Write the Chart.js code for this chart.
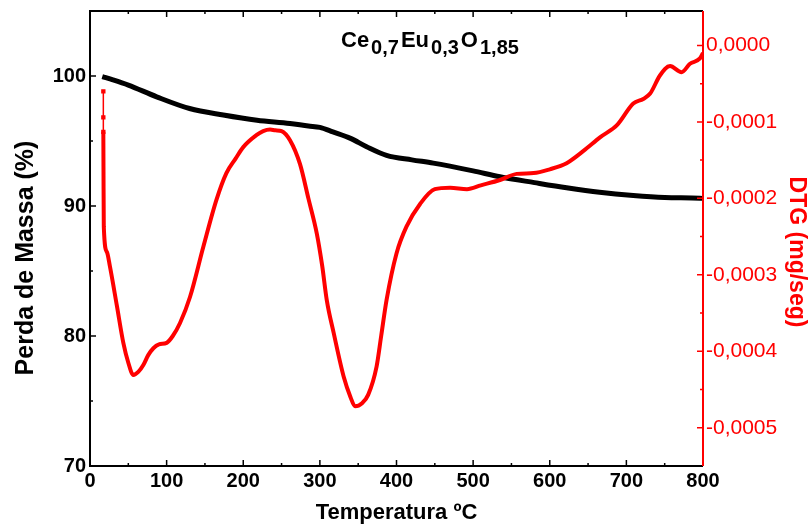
<!DOCTYPE html>
<html>
<head>
<meta charset="utf-8">
<script src="https://cdn.jsdelivr.net/npm/chart.js@4.4.1/dist/chart.umd.min.js"></script>
<style>
  html, body { margin: 0; padding: 0; background: #fff; }
  canvas { display: block; }
</style>
</head>
<body>
<canvas id="tgChart" width="808" height="526"></canvas>
<script>
// Curva TG (perda de massa, %)
const tempTG = [16, 30, 50, 87, 130, 174, 218, 261, 285, 300, 317, 340, 361, 387, 420, 448, 500, 535, 580, 622, 665, 709, 750, 796, 800];
const massaTG = [99.95, 99.7, 99.3, 98.4, 97.5, 97.0, 96.6, 96.35, 96.15, 96.05, 95.7, 95.2, 94.56, 93.9, 93.55, 93.3, 92.7, 92.25, 91.8, 91.4, 91.05, 90.8, 90.65, 90.6, 90.58];

// Curva DTG (mg/seg)
const tempDTG = [17.4, 17.6, 18, 22, 26, 35, 43.5, 50, 56.5, 63, 69.6, 76, 82.7, 90, 100, 108, 117.5, 130.5, 148, 165, 178, 190, 200, 217.6, 226, 235, 242, 250, 261, 274, 285, 296, 303, 309, 318, 331, 340, 346, 355, 363, 374, 380, 387, 400, 413, 431, 450, 470, 492, 510, 535, 557, 579, 600, 622, 644, 666, 688, 709, 722, 731, 744, 757, 772, 783, 796, 800];
const valorDTG = [-0.000113, -0.00016, -0.000237, -0.00027, -0.000289, -0.00034, -0.000389, -0.000415, -0.000431, -0.000427, -0.000418, -0.000405, -0.000396, -0.000391, -0.000389, -0.00038, -0.000363, -0.000329, -0.000263, -0.000202, -0.000167, -0.000148, -0.000133, -0.000117, -0.000112, -0.00011, -0.000111, -0.000112, -0.000124, -0.000155, -0.0002, -0.000246, -0.000288, -0.000333, -0.000376, -0.000433, -0.00046, -0.000472, -0.000468, -0.000457, -0.00042, -0.00038, -0.000333, -0.000272, -0.000237, -0.000207, -0.000188, -0.000186, -0.000188, -0.000183, -0.000176, -0.000168, -0.000167, -0.000162, -0.000154, -0.000138, -0.00012, -0.000104, -0.000076, -0.00007, -0.000063, -0.000039, -0.000027, -0.000035, -0.000024, -0.000017, -0.00001];

// primeiros pontos (traço fino com marcadores)
const tempInicio = [17.4, 17.4, 17.4];
const valorInicio = [-0.00006, -0.000094, -0.000113];

// ticks
const xTicks = [0, 100, 200, 300, 400, 500, 600, 700, 800];
const massaTicks = [70, 80, 90, 100];
const dtgTicks = [0, -0.0001, -0.0002, -0.0003, -0.0004, -0.0005];
const dtgTickLabels = ['0,0000', '-0,0001', '-0,0002', '-0,0003', '-0,0004', '-0,0005'];

const FONTE = "'Liberation Sans', Arial, sans-serif";
const VERMELHO = '#ff0000';

function pares(xs, ys) {
    return xs.map((x, i) => ({ x: x, y: ys[i] }));
}

// marcas dos eixos (para dentro), moldura, títulos e fórmula
const extras = {
    id: 'extras',
    afterDraw(chart) {
        const ctx = chart.ctx;
        const a = chart.chartArea;
        const sx = chart.scales.x, sy = chart.scales.y, sy2 = chart.scales.y2;
        ctx.save();

        ctx.lineWidth = 1.5;
        ctx.strokeStyle = '#000';
        ctx.beginPath();
        for (let t = 0; t <= 800; t += 50) {
            const px = sx.getPixelForValue(t);
            const len = t % 100 === 0 ? 6 : 3;
            ctx.moveTo(px, a.bottom); ctx.lineTo(px, a.bottom - len);
            ctx.moveTo(px, a.top); ctx.lineTo(px, a.top + len);
        }
        for (let m = 70; m <= 105; m += 5) {
            const py = sy.getPixelForValue(m);
            const len = m % 10 === 0 ? 6 : 3;
            ctx.moveTo(a.left, py); ctx.lineTo(a.left + len, py);
        }
        ctx.stroke();

        ctx.strokeStyle = VERMELHO;
        ctx.beginPath();
        for (let k = 0; k <= 11; k++) {
            const py = sy2.getPixelForValue(-k * 0.00005);
            const len = k % 2 === 0 ? 6 : 3;
            ctx.moveTo(a.right, py); ctx.lineTo(a.right - len, py);
        }
        ctx.stroke();

        // moldura
        ctx.lineWidth = 2;
        ctx.strokeStyle = '#000';
        ctx.beginPath();
        ctx.moveTo(a.right, a.top); ctx.lineTo(a.left, a.top);
        ctx.lineTo(a.left, a.bottom); ctx.lineTo(a.right, a.bottom);
        ctx.stroke();
        ctx.strokeStyle = VERMELHO;
        ctx.beginPath();
        ctx.moveTo(a.right, a.top); ctx.lineTo(a.right, a.bottom);
        ctx.stroke();

        // títulos dos eixos y
        ctx.textAlign = 'center';
        ctx.textBaseline = 'middle';
        ctx.fillStyle = '#000';
        ctx.font = 'bold 25px ' + FONTE;
        ctx.save();
        ctx.translate(26, 258);
        ctx.rotate(-Math.PI / 2);
        ctx.fillText('Perda de Massa (%)', 0, 0);
        ctx.restore();

        ctx.fillStyle = VERMELHO;
        ctx.font = 'bold 23px ' + FONTE;
        ctx.save();
        ctx.translate(796, 252);
        ctx.rotate(Math.PI / 2);
        ctx.fillText('DTG (mg/seg)', 0, 0);
        ctx.restore();

        // fórmula
        const partes = [['Ce', 0], ['0,7', 1], ['Eu', 0], ['0,3', 1], ['O', 0], ['1,85', 1]];
        ctx.fillStyle = '#000';
        ctx.textAlign = 'left';
        ctx.textBaseline = 'alphabetic';
        let x = 341;
        partes.forEach(([txt, sub]) => {
            ctx.font = sub ? 'bold 20px ' + FONTE : 'bold 22px ' + FONTE;
            ctx.fillText(txt, x, sub ? 54 : 47);
            x += ctx.measureText(txt).width + 2;
        });

        ctx.restore();
    }
};

const ctx = document.getElementById('tgChart').getContext('2d');
const graficoTG = new Chart(ctx, {
    type: 'line',
    data: {
        datasets: [{
            label: 'DTG',
            data: pares(tempDTG, valorDTG),
            yAxisID: 'y2',
            borderColor: VERMELHO,
            borderWidth: 4,
            pointRadius: 0,
            cubicInterpolationMode: 'monotone',
            order: 0
        }, {
            label: 'DTG início',
            data: pares(tempInicio, valorInicio),
            yAxisID: 'y2',
            borderColor: VERMELHO,
            backgroundColor: VERMELHO,
            borderWidth: 1.5,
            pointStyle: 'rect',
            pointRadius: 2,
            order: 1
        }, {
            label: 'TG',
            data: pares(tempTG, massaTG),
            yAxisID: 'y',
            borderColor: '#000',
            borderWidth: 5,
            pointRadius: 0,
            cubicInterpolationMode: 'monotone',
            order: 2
        }]
    },
    options: {
        responsive: false,
        animation: false,
        devicePixelRatio: 1,
        layout: { padding: { top: 11, left: 0, right: 0, bottom: 0 } },
        plugins: { legend: { display: false }, tooltip: { enabled: false } },
        scales: {
            x: {
                type: 'linear',
                min: 0,
                max: 800,
                afterBuildTicks: s => { s.ticks = xTicks.map(v => ({ value: v })); },
                afterFit: s => { s.height = 60; s.paddingLeft = 0; s.paddingRight = 0; },
                grid: { display: false, drawTicks: false },
                border: { display: false },
                ticks: { color: '#000', padding: 3, maxRotation: 0, font: { family: FONTE, size: 20, weight: 'bold' } },
                title: {
                    display: true,
                    text: 'Temperatura ºC',
                    color: '#000',
                    padding: { top: 0, bottom: 0 },
                    font: { family: FONTE, size: 22, weight: 'bold' }
                }
            },
            y: {
                position: 'left',
                min: 70,
                max: 105,
                afterBuildTicks: s => { s.ticks = massaTicks.map(v => ({ value: v })); },
                afterFit: s => { s.width = 90; s.paddingTop = 0; s.paddingBottom = 0; },
                grid: { display: false, drawTicks: false },
                border: { display: false },
                ticks: { color: '#000', padding: 4, font: { family: FONTE, size: 20, weight: 'bold' } }
            },
            y2: {
                position: 'right',
                min: -0.00055,
                max: 0.000045,
                afterBuildTicks: s => { s.ticks = dtgTicks.map(v => ({ value: v })); },
                afterFit: s => { s.width = 105; s.paddingTop = 0; s.paddingBottom = 0; },
                grid: { display: false, drawTicks: false },
                border: { display: false },
                ticks: {
                    color: VERMELHO,
                    padding: 3,
                    font: { family: FONTE, size: 21 },
                    callback: v => dtgTickLabels[dtgTicks.indexOf(v)]
                }
            }
        }
    },
    plugins: [extras]
});
</script>
</body>
</html>
